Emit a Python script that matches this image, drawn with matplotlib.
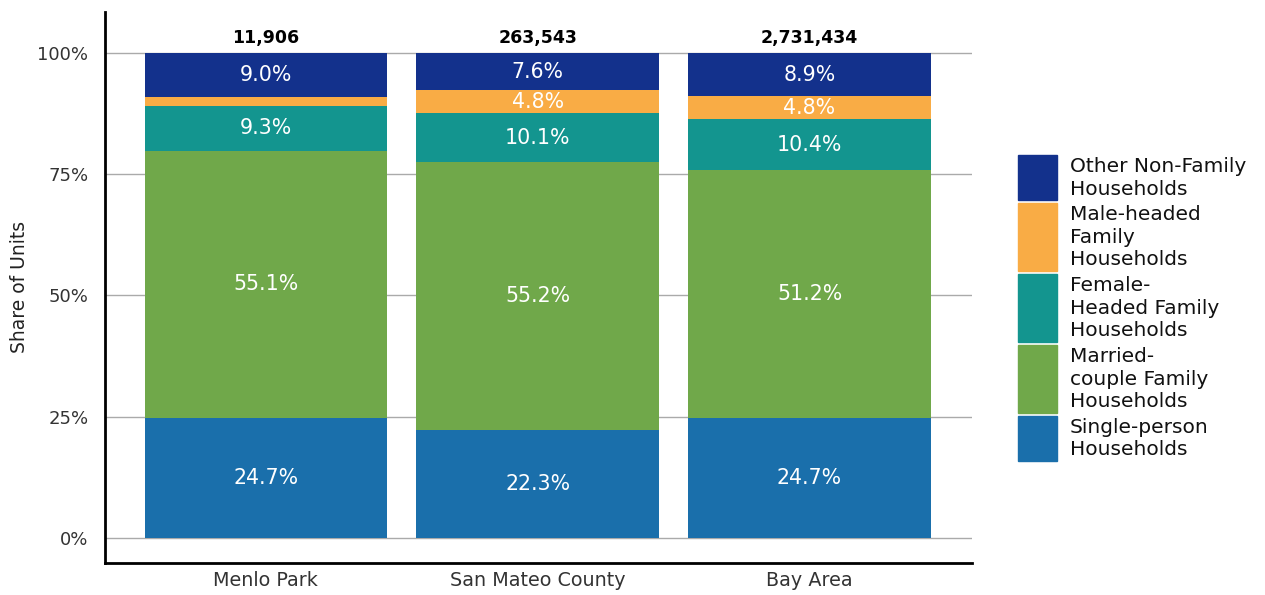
import matplotlib.pyplot as plt
from matplotlib.patches import Rectangle

plt.rcParams["font.family"] = ["DejaVu Sans"]

places = ["Menlo Park", "San Mateo County", "Bay Area"]
totals = [11906, 263543, 2731434]

single_person = [24.7, 22.3, 24.7]
married_couple = [55.1, 55.2, 51.2]
female_headed = [9.3, 10.1, 10.4]
male_headed = [1.9, 4.8, 4.8]
other_non_family = [9.0, 7.6, 8.9]

series = [
    ("Single-person Households", single_person, "#1a6fab"),
    ("Married-couple Family Households", married_couple, "#70a84a"),
    ("Female-Headed Family Households", female_headed, "#13958f"),
    ("Male-headed Family Households", male_headed, "#f9ac45"),
    ("Other Non-Family Households", other_non_family, "#13318c"),
]
# how the legend wraps each name
legend_lines = {
    "Single-person Households": ["Single-person", "Households"],
    "Married-couple Family Households": ["Married-", "couple Family", "Households"],
    "Female-Headed Family Households": ["Female-", "Headed Family", "Households"],
    "Male-headed Family Households": ["Male-headed", "Family", "Households"],
    "Other Non-Family Households": ["Other Non-Family", "Households"],
}

fig = plt.figure(figsize=(12.65, 5.95), dpi=100)
ax = fig.add_axes([0.083, 0.054, 0.685, 0.926])

x = list(range(len(places)))
bottoms = [0.0] * len(places)
for name, vals, color in series:
    ax.bar(x, vals, bottom=bottoms, width=0.893, color=color, zorder=2)
    for i, v in enumerate(vals):
        if v >= 3:
            ax.text(x[i], bottoms[i] + v / 2, f"{v:.1f}%", ha="center", va="center",
                    color="white", fontsize=14.8, zorder=3)
    bottoms = [b + v for b, v in zip(bottoms, vals)]

for i, t in enumerate(totals):
    ax.annotate(f"{t:,}", (x[i], 100), xytext=(0, 11), textcoords="offset points",
                ha="center", va="center", fontsize=12.5, fontweight="bold", color="black")

ax.set_xlim(-0.592, 2.596)
ax.set_ylim(-5.2, 108.5)
ax.set_yticks([0, 25, 50, 75, 100])
ax.set_yticklabels(["0%", "25%", "50%", "75%", "100%"])
ax.set_xticks(x)
ax.set_xticklabels(places)
ax.tick_params(axis="both", length=0, colors="#333333")
ax.tick_params(axis="y", labelsize=13, pad=12)
ax.tick_params(axis="x", labelsize=13.8, pad=6)
ax.yaxis.grid(True, color="#aaaaaa", linewidth=1, zorder=0)
ax.set_axisbelow(True)
ax.set_ylabel("Share of Units", fontsize=13.5, color="#222222", labelpad=6)

for s in ["top", "right"]:
    ax.spines[s].set_visible(False)
for s in ["left", "bottom"]:
    ax.spines[s].set_linewidth(2)
    ax.spines[s].set_color("black")

# legend drawn by hand so each swatch spans its wrapped text
W, H = 1265, 595
line_h = 22.7
gap = 2.8
top = 155
for name, vals, color in reversed(series):
    lines = legend_lines[name]
    h = len(lines) * line_h
    fig.add_artist(Rectangle((1018 / W, 1 - (top + h) / H), 39 / W, h / H,
                             transform=fig.transFigure, color=color))
    for j, ln in enumerate(lines):
        fig.text(1070 / W, 1 - (top + line_h * (j + 0.5)) / H, ln,
                 fontsize=14.5, va="center", ha="left", color="#111111")
    top += h + gap

fig.savefig("out.png", dpi=100)
